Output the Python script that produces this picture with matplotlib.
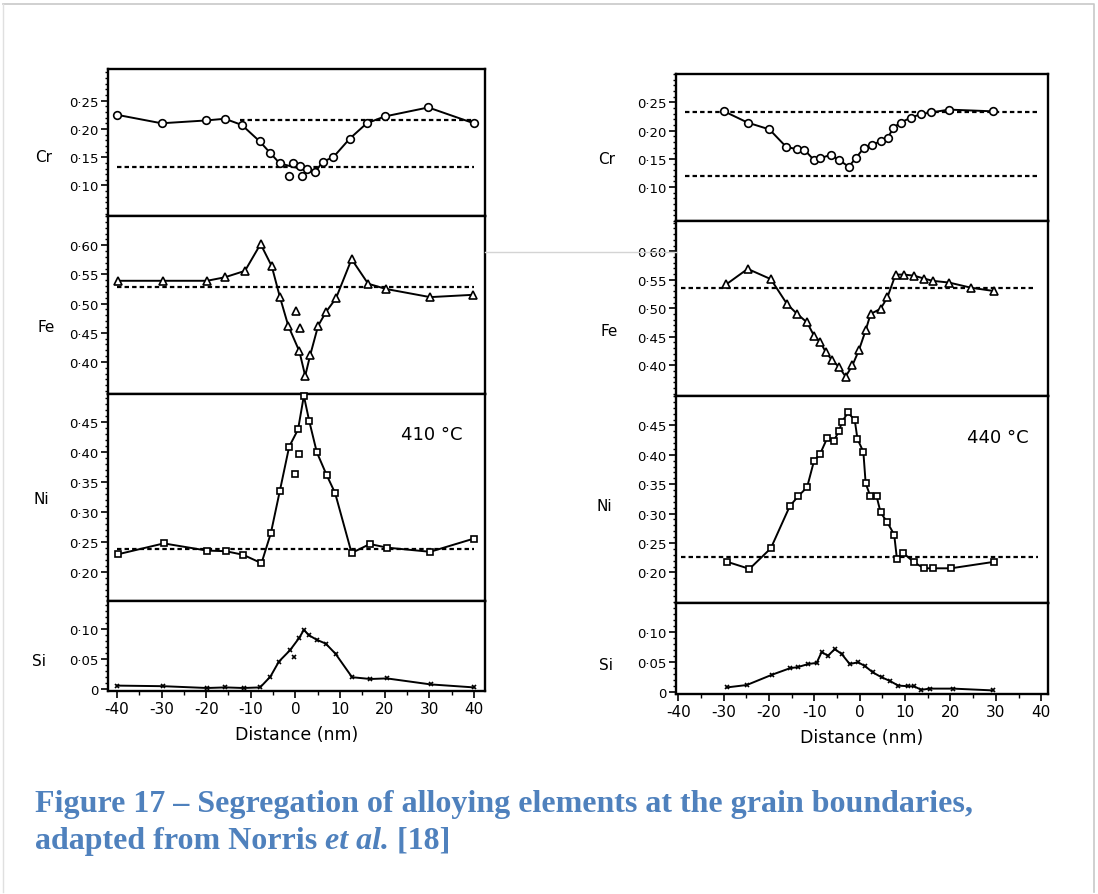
import matplotlib
matplotlib.use("Agg")
import matplotlib.pyplot as plt
from matplotlib.ticker import FixedLocator, MultipleLocator, FuncFormatter

W, H = 1098, 895

# ---- 410 C profiles (left column) ----
cr410_x = [-40, -30, -20, -15.8, -12, -8, -5.7, -3.5, 4.4, 6.1, 8.5, 12.2, 16, 20, 29.8, 40]
cr410_y = [0.225, 0.210, 0.215, 0.218, 0.207, 0.178, 0.158, 0.139, 0.123, 0.142, 0.150, 0.183, 0.210, 0.222, 0.238, 0.210]
cr410_extra_x = [-1.4, -0.6, 1.0, 1.5, 2.7]
cr410_extra_y = [0.117, 0.139, 0.135, 0.117, 0.129]

fe410_x = [-39.7, -29.6, -19.8, -15.8, -11.3, -7.8, -5.3, -3.5, -1.6, 0.9, 2.2, 3.3, 5.1, 6.9, 9.1, 12.6, 16.3, 20.3, 30.2, 39.9]
fe410_y = [0.539, 0.539, 0.539, 0.545, 0.556, 0.602, 0.564, 0.512, 0.462, 0.418, 0.376, 0.411, 0.462, 0.486, 0.509, 0.576, 0.534, 0.525, 0.511, 0.515]
fe410_extra_x = [0.1, 1.0]
fe410_extra_y = [0.488, 0.458]

ni410_x = [-39.7, -29.5, -19.8, -15.6, -11.7, -7.6, -5.5, -3.5, -1.4, 0.6, 1.9, 3.1, 4.8, 7.0, 8.9, 12.6, 16.7, 20.5, 30.2, 40]
ni410_y = [0.230, 0.248, 0.236, 0.235, 0.229, 0.215, 0.265, 0.335, 0.409, 0.438, 0.494, 0.452, 0.400, 0.362, 0.332, 0.232, 0.247, 0.241, 0.234, 0.256]
ni410_extra_x = [0.9, -0.1]
ni410_extra_y = [0.397, 0.363]

si410_x = [-40, -29.6, -19.8, -15.7, -11.6, -7.9, -5.6, -3.7, -1.2, 0.9, 1.9, 3.0, 4.9, 6.8, 9.0, 12.7, 16.8, 20.5, 30.3, 40]
si410_y = [0.006, 0.005, 0.002, 0.003, 0.002, 0.003, 0.021, 0.046, 0.065, 0.086, 0.099, 0.090, 0.082, 0.076, 0.059, 0.020, 0.017, 0.018, 0.008, 0.003]
si410_extra_x = [-0.2]
si410_extra_y = [0.054]

# dashed reference levels: (x start, x end, level)
ref410 = {
    "Cr": [(-12.4, 40, 0.216), (-40, 40, 0.132)],
    "Fe": [(-40, 40, 0.528)],
    "Ni": [(-40, 40, 0.239)],
    "Si": [],
}

# ---- 440 C profiles (right column) ----
cr440_x = [-29.9, -24.7, -19.9, -16.2, -13.8, -12.2, -10.1, -8.7, -6.4, -4.6, -2.4, -0.9, 0.9, 2.8, 4.6, 6.2, 7.4, 9.0, 11.3, 13.5, 15.7, 19.7, 29.3]
cr440_y = [0.234, 0.214, 0.202, 0.171, 0.167, 0.166, 0.148, 0.151, 0.157, 0.148, 0.136, 0.151, 0.169, 0.175, 0.181, 0.187, 0.205, 0.214, 0.223, 0.229, 0.232, 0.237, 0.234]

fe440_x = [-29.4, -24.7, -19.6, -16.0, -13.8, -11.6, -10.1, -8.7, -7.5, -6.1, -4.6, -3.1, -1.6, -0.2, 1.3, 2.4, 4.6, 6.1, 7.9, 9.8, 12.0, 14.2, 16.1, 19.7, 24.5, 29.7]
fe440_y = [0.542, 0.569, 0.551, 0.507, 0.490, 0.475, 0.452, 0.441, 0.423, 0.409, 0.397, 0.380, 0.400, 0.426, 0.461, 0.490, 0.499, 0.519, 0.559, 0.559, 0.557, 0.552, 0.548, 0.545, 0.536, 0.530]

ni440_x = [-29.2, -24.3, -19.6, -15.4, -13.5, -11.6, -10.1, -8.7, -7.2, -5.7, -4.6, -3.9, -2.6, -1.1, -0.5, 0.8, 1.3, 2.3, 3.7, 4.6, 6.1, 7.6, 8.2, 9.6, 12.0, 14.2, 16.1, 20.1, 29.6]
ni440_y = [0.218, 0.206, 0.241, 0.313, 0.330, 0.345, 0.389, 0.402, 0.428, 0.424, 0.440, 0.456, 0.472, 0.459, 0.427, 0.405, 0.352, 0.330, 0.330, 0.302, 0.285, 0.264, 0.223, 0.233, 0.217, 0.207, 0.207, 0.207, 0.218]

si440_x = [-29.3, -24.9, -19.4, -15.4, -13.6, -11.4, -9.5, -8.4, -7.0, -5.5, -4.0, -2.2, -0.4, 1.1, 2.9, 4.8, 6.6, 8.5, 10.7, 11.9, 13.6, 15.4, 20.6, 29.3]
si440_y = [0.008, 0.012, 0.029, 0.040, 0.042, 0.047, 0.049, 0.067, 0.061, 0.072, 0.064, 0.047, 0.050, 0.044, 0.033, 0.025, 0.019, 0.011, 0.010, 0.010, 0.004, 0.006, 0.006, 0.003]

ref440 = {
    "Cr": [(-38.5, 39.3, 0.232), (-38.5, 39.3, 0.120)],
    "Fe": [(-39.3, 38.9, 0.535)],
    "Ni": [(-39.3, 39.3, 0.226)],
    "Si": [],
}

elements = ["Cr", "Fe", "Ni", "Si"]
markers = {"Cr": "o", "Fe": "^", "Ni": "s", "Si": "x"}
msizes = {"Cr": 5.5, "Fe": 6, "Ni": 5, "Si": 3.5}
yticks = {
    "Cr": [0.10, 0.15, 0.20, 0.25],
    "Fe": [0.40, 0.45, 0.50, 0.55, 0.60],
    "Ni": [0.20, 0.25, 0.30, 0.35, 0.40, 0.45],
    "Si": [0.0, 0.05, 0.10],
}
xticks = [-40, -30, -20, -10, 0, 10, 20, 30, 40]

left_data = {
    "Cr": (cr410_x, cr410_y, cr410_extra_x, cr410_extra_y),
    "Fe": (fe410_x, fe410_y, fe410_extra_x, fe410_extra_y),
    "Ni": (ni410_x, ni410_y, ni410_extra_x, ni410_extra_y),
    "Si": (si410_x, si410_y, si410_extra_x, si410_extra_y),
}
right_data = {
    "Cr": (cr440_x, cr440_y, [], []),
    "Fe": (fe440_x, fe440_y, [], []),
    "Ni": (ni440_x, ni440_y, [], []),
    "Si": (si440_x, si440_y, [], []),
}

# panel geometry in pixels
left_cols = (108, 485)
left_rows = [(70, 217), (217, 395), (395, 602), (602, 692)]
left_xlim = (-42.0, 42.5)
left_ylims = {"Cr": (0.046, 0.306), "Fe": (0.345, 0.650), "Ni": (0.152, 0.497), "Si": (-0.003, 0.147)}
left_lbl = {"Cr": (44, 157), "Fe": (46, 327), "Ni": (41, 500), "Si": (39, 661)}

right_cols = (676, 1048)
right_rows = [(75, 222), (222, 397), (397, 604), (604, 695)]
right_xlim = (-40.5, 41.5)
right_ylims = {"Cr": (0.040, 0.300), "Fe": (0.346, 0.653), "Ni": (0.148, 0.500), "Si": (-0.003, 0.149)}
right_lbl = {"Cr": (607, 159), "Fe": (609, 331), "Ni": (604, 507), "Si": (606, 665)}

plt.rcParams["font.family"] = ["DejaVu Sans"]
fig = plt.figure(figsize=(W / 100, H / 100), dpi=100)


def fmt_y(v, pos):
    if abs(v) < 1e-9:
        return "0"
    return f"{v:.2f}".replace(".", "\u00b7")


def draw_column(cols, rows, xlim, ylims, data, refs, lbls, temp):
    x0, x1 = cols
    for i, el in enumerate(elements):
        y0, y1 = rows[i]
        ax = fig.add_axes([x0 / W, 1 - y1 / H, (x1 - x0) / W, (y1 - y0) / H])
        xs, ys, ex, ey = data[el]
        for a, b, lev in refs[el]:
            ax.plot([a, b], [lev, lev], color="black", lw=1.6, ls=(0, (2, 1.4)))
        ax.plot(xs, ys, color="black", lw=1.4, marker=markers[el], ms=msizes[el],
                mfc="white", mec="black", mew=1.2, clip_on=False, zorder=3)
        if ex:
            ax.plot(ex, ey, ls="none", marker=markers[el], ms=msizes[el],
                    mfc="white", mec="black", mew=1.2, zorder=3)
        ax.set_xlim(*xlim)
        ax.set_ylim(*ylims[el])
        ax.yaxis.set_major_locator(FixedLocator(yticks[el]))
        ax.yaxis.set_minor_locator(MultipleLocator(0.01))
        ax.yaxis.set_major_formatter(FuncFormatter(fmt_y))
        for s in ax.spines.values():
            s.set_linewidth(1.7)
        ax.tick_params(axis="y", which="major", direction="out", length=5, width=1.2,
                       labelsize=9.5, pad=2)
        ax.tick_params(axis="y", which="minor", direction="out", length=2.5, width=1)
        if el == "Si":
            ax.xaxis.set_major_locator(FixedLocator(xticks))
            ax.xaxis.set_minor_locator(MultipleLocator(5))
            ax.set_xticklabels([str(t) for t in xticks])
            ax.tick_params(axis="x", which="major", direction="out", length=5, width=1.2,
                           labelsize=11, pad=2)
            ax.tick_params(axis="x", which="minor", direction="out", length=3, width=1)
            ax.set_xlabel("Distance (nm)", fontsize=12.5, labelpad=7)
        else:
            ax.set_xticks([])
        if el == "Ni":
            ax.text(30.5, 0.43, temp, fontsize=13, ha="center", va="center")
        lx, ly = lbls[el]
        fig.text(lx / W, 1 - ly / H, el, fontsize=11, ha="center", va="center")


draw_column(left_cols, left_rows, left_xlim, left_ylims, left_data, ref410, left_lbl, "410 \u00b0C")
draw_column(right_cols, right_rows, right_xlim, right_ylims, right_data, ref440, right_lbl, "440 \u00b0C")

# overlay in pixel coordinates for frame, scan streak and caption
ov = fig.add_axes([0, 0, 1, 1])
ov.set_xlim(0, W)
ov.set_ylim(H, 0)
ov.axis("off")
ov.plot([3, 1094, 1094], [5, 5, 893], color="#c8c8c8", lw=1.2)
ov.plot([3, 3], [5, 893], color="#e0e0e0", lw=1)
ov.plot([485, 676], [253, 253], color="#d4d4d4", lw=1)

cap_color = "#4f81bd"
cap_kw = dict(fontsize=23, color=cap_color, family="Liberation Serif", fontweight="bold", va="baseline")
ov.text(35, 812, "Figure 17 \u2013 Segregation of alloying elements at the grain boundaries,", **cap_kw)
t1 = ov.text(35, 849, "adapted from Norris ", **cap_kw)
t2 = ov.annotate("et al.", xy=(1, 849), xycoords=(t1, "data"), style="italic", **cap_kw)
ov.annotate(" [18]", xy=(1, 849), xycoords=(t2, "data"), **cap_kw)

fig.savefig("out.png", dpi=100, facecolor="white")
